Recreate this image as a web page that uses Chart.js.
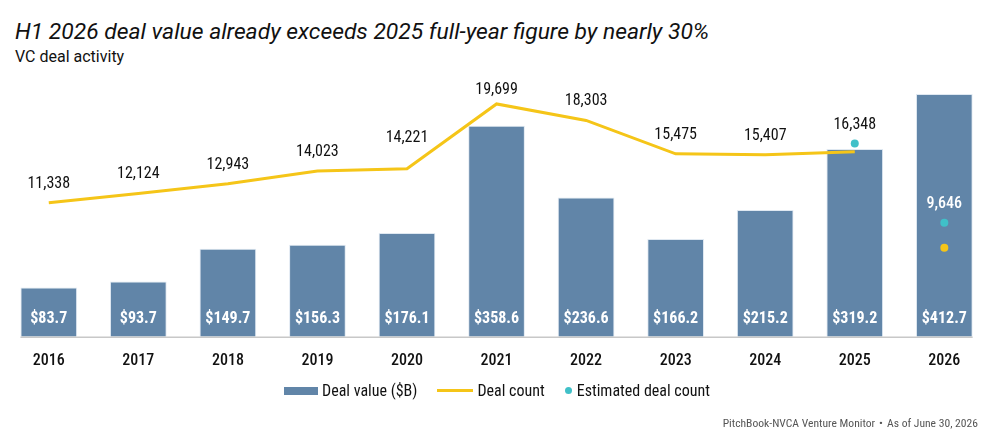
<!DOCTYPE html>
<html><head><meta charset="utf-8">
<script src="https://cdn.jsdelivr.net/npm/chart.js@4.4.1/dist/chart.umd.min.js"></script>
<style>
body{margin:0;background:#fff;width:1002px;height:438px;overflow:hidden;position:relative;font-family:Roboto,"Noto Sans",sans-serif;}
#title{position:absolute;left:15px;top:18px;font-size:22.85px;font-style:italic;color:#111;white-space:nowrap;}
#sub{position:absolute;left:15px;top:47px;font-size:16px;color:#111;white-space:nowrap;}
#wrap{position:absolute;left:0;top:0;width:1002px;height:438px;}
#legend{position:absolute;top:381px;left:0;width:994px;display:flex;justify-content:center;align-items:center;font-family:"Roboto Condensed","Liberation Sans Narrow",Roboto,sans-serif;font-size:16px;color:#111;}
#legend .it{display:flex;align-items:center;margin:0 10px;}
#legend .sw{display:inline-block;margin-right:4px;}
#source{position:absolute;right:24px;top:416px;font-size:11.6px;color:#555;font-family:"Roboto Condensed","Liberation Sans Narrow",Roboto,sans-serif;white-space:nowrap;}
#source .dot{margin:0 4px;}
</style>
</head><body>
<div id="title">H1 2026 deal value already exceeds 2025 full-year figure by nearly 30%</div>
<div id="sub">VC deal activity</div>
<div id="wrap"><canvas id="c"></canvas></div>
<div id="legend">
  <div class="it"><span class="sw" style="width:34px;height:8px;background:#6185a8"></span>Deal value ($B)</div>
  <div class="it"><span class="sw" style="width:36px;height:3px;background:#f5c518"></span>Deal count</div>
  <div class="it"><span class="sw" style="width:7px;height:7px;border-radius:50%;background:#40c0c8;margin-right:5px"></span>Estimated deal count</div>
</div>
<div id="source">PitchBook-NVCA Venture Monitor<span class="dot">•</span>As of June 30, 2026</div>
<script>
const years = ["2016","2017","2018","2019","2020","2021","2022","2023","2024","2025","2026"];
const dealValue = [83.7, 93.7, 149.7, 156.3, 176.1, 358.6, 236.6, 166.2, 215.2, 319.2, 412.7];
const dealCount = [11338, 12124, 12943, 14023, 14221, 19699, 18303, 15475, 15407, 15650, null];
const estimatedCount = [null, null, null, null, null, null, null, null, null, 16348, 9646];
const h1Count = [null, null, null, null, null, null, null, null, null, null, 7530];
const countLabels = ["11,338","12,124","12,943","14,023","14,221","19,699","18,303","15,475","15,407","16,348","9,646"];

const COND = '"Roboto Condensed","Liberation Sans Narrow",Roboto,sans-serif';
const BAR = '#6185a8', GOLD = '#f5c518', TEAL = '#40c0c8';

const labelPlugin = {
  id: 'labels',
  afterDatasetsDraw(chart, args, opts) {
    const ctx = chart.ctx, x = chart.scales.x, yv = chart.scales.yValue, yc = chart.scales.yCount;
    ctx.save();
    ctx.textAlign = 'center';
    ctx.textBaseline = 'middle';
    const first = chart.getDatasetMeta(0).data[0], last = chart.getDatasetMeta(0).data[years.length-1];
    const by = yv.getPixelForValue(0);
    ctx.strokeStyle = '#c8c8c8'; ctx.lineWidth = 1.5;
    ctx.beginPath(); ctx.moveTo(first.x - first.width/2, by + 0.5); ctx.lineTo(last.x + last.width/2, by + 0.5); ctx.stroke();
    ctx.font = 'bold 16px ' + COND;
    ctx.fillStyle = '#fff';
    dealValue.forEach((v, i) => {
      ctx.fillText('$' + v.toFixed(1), x.getPixelForValue(i), by - 18);
    });
    countLabels.forEach((t, i) => {
      const v = estimatedCount[i] != null ? estimatedCount[i] : dealCount[i];
      const off = (opts.offsets && opts.offsets[i] != null) ? opts.offsets[i] : 19;
      const white = opts.whiteIdx.includes(i);
      ctx.font = (white ? '500 ' : '') + '16px ' + COND;
      ctx.fillStyle = white ? '#fff' : '#111';
      ctx.fillText(t, x.getPixelForValue(i), yc.getPixelForValue(v) - off);
    });
    ctx.restore();
  }
};

new Chart(document.getElementById('c'), {
  data: {
    labels: years,
    datasets: [
      { type: 'bar', label: 'Deal value ($B)', data: dealValue, yAxisID: 'yValue', backgroundColor: BAR,
        borderColor: 'rgba(220,230,240,0.9)', borderWidth: 1, borderSkipped: 'bottom',
        categoryPercentage: 1, barPercentage: 0.633, order: 3 },
      { type: 'line', label: 'Deal count', data: dealCount, yAxisID: 'yCount', borderColor: GOLD, borderWidth: 3,
        pointRadius: 0, tension: 0, spanGaps: false, order: 1 },
      { type: 'line', label: 'Estimated deal count', data: estimatedCount, yAxisID: 'yCount', showLine: false,
        pointRadius: 4, pointBackgroundColor: TEAL, pointBorderWidth: 0, order: 0 },
      { type: 'line', label: 'H1 deal count', data: h1Count, yAxisID: 'yCount', showLine: false,
        pointRadius: 4, pointBackgroundColor: GOLD, pointBorderWidth: 0, order: 0 }
    ]
  },
  options: {
    responsive: true, maintainAspectRatio: false, animation: false,
    layout: { padding: { top: 72, left: 3.5, right: 12.9, bottom: 61.3 } },
    plugins: {
      legend: { display: false }, tooltip: { enabled: false }, title: { display: false },
      labels: { offsets: { 4: 31, 5: 14 }, whiteIdx: [10] }
    },
    scales: {
      x: {
        grid: { display: false, drawTicks: false }, border: { display: false },
        ticks: { color: '#111', padding: 15, font: { family: COND, size: 16, weight: '500' } },
        afterFit(s) { s.height = 40; }
      },
      yValue: { display: false, min: 0, max: 450 },
      yCount: { display: false, min: 0, max: 22400 }
    }
  },
  plugins: [labelPlugin]
});
</script>
</body></html>
